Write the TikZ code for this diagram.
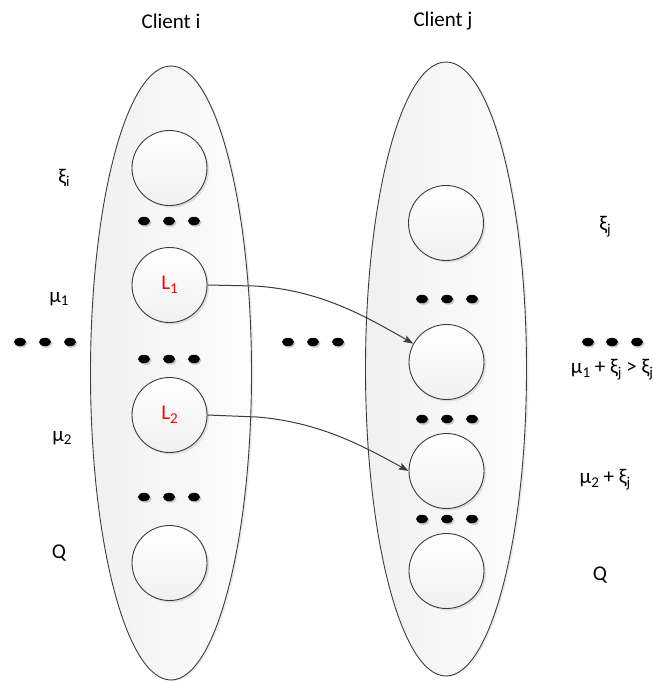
\documentclass[tikz,border=0pt]{standalone}
\usepackage{fontspec}
\setmainfont{Carlito}
\usetikzlibrary{shapes.geometric,arrows.meta,shadows}
\definecolor{edgec}{RGB}{60,60,60}
\definecolor{ellL}{RGB}{240,240,240}
\definecolor{ellR}{RGB}{253,253,253}
\definecolor{circB}{RGB}{240,240,240}
\definecolor{lred}{RGB}{255,0,0}
\newcommand\lsub[1]{\raisebox{-0.18em}{\fontsize{15}{15}\selectfont #1}}
\tikzset{
  client/.style={ellipse, draw=edgec, line width=0.9pt, inner sep=0pt,
    minimum width=161, minimum height=614, left color=ellL, right color=ellR,
    drop shadow={shadow xshift=2pt, shadow yshift=-1pt, opacity=0.08, fill=black}},
  slot/.style={circle, draw=edgec, line width=0.9pt, inner sep=0pt, minimum size=75,
    top color=white, bottom color=circB,
    drop shadow={shadow xshift=2pt, shadow yshift=-2pt, opacity=0.1, fill=black}},
  dotn/.style={ellipse, fill=black, inner sep=0pt, minimum width=12, minimum height=8.5,
    drop shadow={shadow xshift=1.5pt, shadow yshift=-1.5pt, opacity=0.2, fill=black}},
  lbl/.style={inner sep=0pt, anchor=center},
  conn/.style={draw=edgec, line width=1pt, -{Stealth[length=10pt,width=7pt,inset=2pt]}}
}
\begin{document}
\begin{tikzpicture}[x=1pt, y=-1pt, font=\fontsize{21}{25}\selectfont]
\useasboundingbox (0,0) rectangle (653,681);
% clients
\node[client] (ci) at (171,373) {};
\node[client] (cj) at (446,369) {};
% titles
\node[lbl] (ti) at (171,21) {Client i};
\node[lbl] (tj) at (443,21) {Client j};
% left circles
\node[slot] (l0) at (169.5,168) {};
\node[slot] (l1) at (169.5,285) {\textcolor{lred}{L\lsub{1}}};
\node[slot] (l2) at (169.5,415) {\textcolor{lred}{L\lsub{2}}};
\node[slot] (l3) at (169.5,563) {};
% right circles
\node[slot] (r0) at (446,223) {};
\node[slot] (r1) at (446.5,362) {};
\node[slot] (r2) at (446.5,471) {};
\node[slot] (r3) at (446.5,571) {};
% dots
\foreach \y/\n in {221/a,359/b,497/c}{
  \foreach \x/\m in {144/1,169/2,194/3}{
    \node[dotn] (dl\n\m) at (\x,\y) {};
  }
}
\foreach \y/\n in {299/a,419/b,519/c}{
  \foreach \x/\m in {422/1,447/2,472/3}{
    \node[dotn] (dr\n\m) at (\x,\y) {};
  }
}
\foreach \x/\m in {20/1,45/2,70/3}{\node[dotn] (do\m) at (\x,342) {};}
\foreach \x/\m in {288/1,313/2,338/3}{\node[dotn] (dm\m) at (\x,342) {};}
\foreach \x/\m in {588/1,612/2,637/3}{\node[dotn] (dq\m) at (\x,342) {};}
% connectors
\coordinate (k1) at (255,286);
\coordinate (k2) at (257,417);
\draw[conn] (l1.east) -- (k1) .. controls (320,290) and (365,316) .. (r1.151);
\draw[conn] (l2.east) -- (k2) .. controls (320,422) and (365,447) .. (r2.west);
% left labels
\node[lbl] (xi) at (64,178) {ξ\lsub{i}};
\node[lbl] (m1) at (59,299) {μ\lsub{1}};
\node[lbl] (m2) at (62,438) {μ\lsub{2}};
\node[lbl] (qi) at (59,553) {Q};
% right labels
\node[lbl] (xj) at (605,227) {ξ\lsub{j}};
\node[lbl] (s1) at (612,370) {μ\lsub{1} + ξ\lsub{j} > ξ\lsub{j}};
\node[lbl] (s2) at (605,480) {μ\lsub{2} + ξ\lsub{j}};
\node[lbl] (qj) at (600,575) {Q};
\end{tikzpicture}
\end{document}
